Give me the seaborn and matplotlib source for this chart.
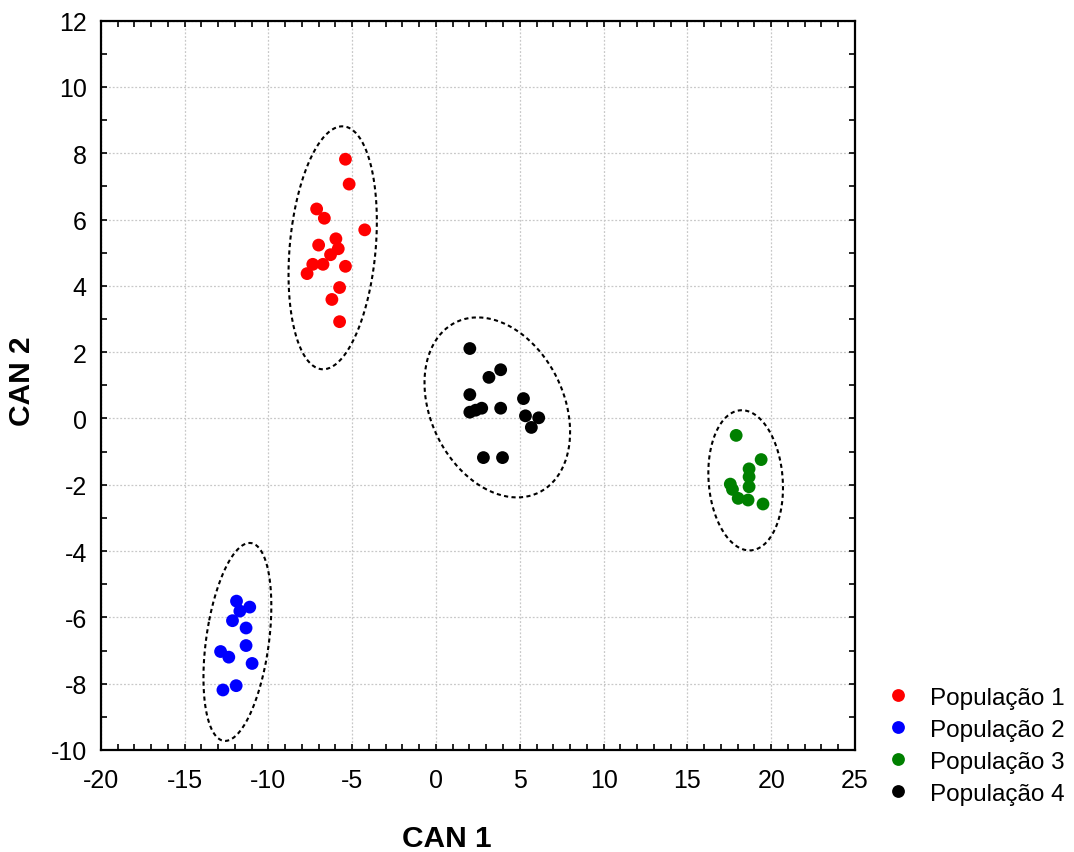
import numpy as np
import pandas as pd
import matplotlib
matplotlib.use("Agg")
import matplotlib.pyplot as plt
import seaborn as sns
from matplotlib.ticker import MultipleLocator

# canonical scores, one pair of lists per population
pop1_x = [-5.40, -5.18, -7.12, -6.66, -4.25, -5.97, -7.00, -5.83, -6.29, -7.35, -6.74, -5.40, -7.69, -5.75, -6.21, -5.75]
pop1_y = [7.82, 7.07, 6.32, 6.04, 5.69, 5.42, 5.23, 5.12, 4.94, 4.65, 4.65, 4.59, 4.37, 3.95, 3.59, 2.92]

pop2_x = [-11.90, -11.11, -11.70, -12.14, -11.33, -11.33, -12.85, -12.36, -10.97, -11.92, -12.71]
pop2_y = [-5.51, -5.69, -5.81, -6.10, -6.32, -6.85, -7.03, -7.20, -7.39, -8.06, -8.19]

pop3_x = [17.91, 19.40, 18.68, 18.68, 18.68, 17.56, 17.69, 18.03, 18.62, 19.51]
pop3_y = [-0.51, -1.24, -1.52, -1.76, -2.06, -1.98, -2.14, -2.41, -2.46, -2.58]

pop4_x = [2.02, 3.86, 3.16, 2.02, 5.22, 2.02, 2.37, 2.73, 3.86, 5.34, 6.13, 5.69, 2.83, 3.97]
pop4_y = [2.11, 1.47, 1.24, 0.72, 0.60, 0.19, 0.25, 0.31, 0.31, 0.08, 0.02, -0.27, -1.18, -1.18]

groups = ["População 1", "População 2", "População 3", "População 4"]
colors = ["#ff0000", "#0000ff", "#008000", "#000000"]

frames = []
for name, xs, ys in zip(groups,
                        [pop1_x, pop2_x, pop3_x, pop4_x],
                        [pop1_y, pop2_y, pop3_y, pop4_y]):
    frames.append(pd.DataFrame({"CAN 1": xs, "CAN 2": ys, "grupo": name}))
df = pd.concat(frames, ignore_index=True)


def prediction_ellipse(x, y, p=0.95, npts=200):
    """95% prediction ellipse (F based, 2 df) around the group mean."""
    x = np.asarray(x)
    y = np.asarray(y)
    n = len(x)
    cov = np.cov(x, y)
    d2 = n - 2
    fq = d2 / 2.0 * ((1 - p) ** (-2.0 / d2) - 1)  # F(p; 2, d2), closed form
    k = np.sqrt(2 * (n + 1) * (n - 1) / (n * (n - 2)) * fq)
    vals, vecs = np.linalg.eigh(cov)
    t = np.linspace(0, 2 * np.pi, npts)
    circ = np.vstack([np.cos(t), np.sin(t)])
    pts = vecs @ (np.sqrt(vals)[:, None] * circ) * k
    return pts[0] + x.mean(), pts[1] + y.mean()


plt.rcParams['font.family'] = ['Liberation Sans', 'DejaVu Sans']
plt.rcParams['axes.unicode_minus'] = False
fig = plt.figure(figsize=(10.74, 8.53), dpi=100)
ax = fig.add_axes([0.0938, 0.1196, 0.7023, 0.855])

sns.scatterplot(data=df, x="CAN 1", y="CAN 2", hue="grupo", palette=colors,
                s=85, edgecolor="none", ax=ax, zorder=3)

for name in groups:
    sub = df[df["grupo"] == name]
    ex, ey = prediction_ellipse(sub["CAN 1"], sub["CAN 2"])
    ax.plot(ex, ey, color="black", lw=1.5, linestyle=(0, (2, 1.6)), zorder=2)

ax.set_xlim(-20, 25)
ax.set_ylim(-10, 12)
ax.xaxis.set_major_locator(MultipleLocator(5))
ax.xaxis.set_minor_locator(MultipleLocator(1))
ax.yaxis.set_major_locator(MultipleLocator(2))
ax.yaxis.set_minor_locator(MultipleLocator(1))
ax.tick_params(which="both", direction="in", top=True, right=True,
               length=4, width=1.2, labelsize=18)
ax.tick_params(axis="x", which="major", pad=13)
ax.tick_params(axis="y", which="major", pad=10)
ax.grid(True, which="major", color="#c8c8c8", linestyle=(0, (1.5, 1.5)), lw=0.9)
ax.set_axisbelow(True)
for sp in ax.spines.values():
    sp.set_linewidth(1.6)
    sp.set_color("black")

ax.set_xlabel("CAN 1", fontsize=21.5, fontweight="bold")
ax.set_ylabel("CAN 2", fontsize=21.5, fontweight="bold")
ax.xaxis.set_label_coords(0.459, -0.102)
ax.yaxis.set_label_coords(-0.0855, 0.507)

handles, labels = ax.get_legend_handles_labels()
ax.legend_.remove()
fig.legend(handles, labels, loc="lower left", bbox_to_anchor=(0.7933, 0.030),
           frameon=False, fontsize=17.5, handletextpad=0.32, labelspacing=0.41,
           markerscale=1.0)

fig.savefig("out.png", dpi=100)
